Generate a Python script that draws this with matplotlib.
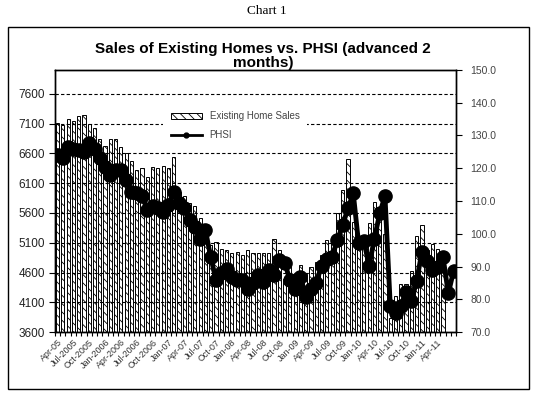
import matplotlib
matplotlib.use('Agg')
from matplotlib import pyplot as plt
from matplotlib.patches import Rectangle
from matplotlib.lines import Line2D
import numpy as np

# monthly categories Apr-05 .. Jul-11 (bars stop at May-11, PHSI is advanced 2 months)
tick_labels = ['Apr-05', 'Jul-2005', 'Oct-2005', 'Jan-2006', 'Apr-2006', 'Jul-2006', 'Oct-2006',
               'Jan-07', 'Apr-07', 'Jul-07', 'Oct-07', 'Jan-08', 'Apr-08', 'Jul-08', 'Oct-08',
               'Jan-09', 'Apr-09', 'Jul-09', 'Oct-09', 'Jan-10', 'Apr-10', 'Jul-10', 'Oct-10',
               'Jan-11', 'Apr-11']

existing_sales = [7110, 7080, 7180, 7140, 7230, 7250, 7100, 7030, 6840, 6720,
                  6840, 6840, 6700, 6600, 6480, 6320, 6350, 6200, 6370, 6350,
                  6390, 6360, 6540, 5950, 5890, 5770, 5720, 5510, 5140, 5070,
                  5110, 5000, 4970, 4920, 4950, 4900, 4970, 4920, 4930, 4920,
                  4930, 5170, 4980, 4490, 4740, 4490, 4720, 4570, 4690, 4770,
                  4890, 5140, 5100, 5600, 5980, 6500, 5440, 5050, 5020, 5430,
                  5790, 5660, 5240, 3840, 4200, 4410, 4400, 4630, 5220, 5400,
                  4980, 5080, 5000, 4820]

phsi = [124.0, 123.2, 126.4, 126.0, 125.5, 125.1, 127.7, 126.0, 123.2, 120.5,
        117.9, 119.5, 119.4, 116.4, 112.8, 112.5, 111.5, 107.3, 108.6, 107.8,
        106.7, 108.8, 112.8, 109.3, 107.8, 104.2, 102.2, 98.3, 101.1, 93.0,
        85.9, 87.9, 89.4, 86.9, 85.9, 85.9, 83.3, 84.9, 87.4, 85.4,
        88.9, 87.4, 92.0, 91.2, 85.9, 83.0, 86.9, 80.6, 83.0, 85.0,
        90.3, 92.3, 93.0, 98.1, 102.7, 107.8, 112.3, 97.2, 97.9, 90.2,
        98.5, 106.2, 111.5, 78.1, 75.8, 78.0, 82.3, 79.4, 85.6, 94.5,
        91.6, 88.8, 89.8, 92.8, 81.8, 88.7]

plt.rcParams['font.family'] = ['Liberation Sans', 'DejaVu Sans']
plt.rcParams['hatch.linewidth'] = 0.6

fig = plt.figure(figsize=(5.33, 3.93), dpi=100)
ax = fig.add_axes([0.103, 0.155, 0.753, 0.667])
ax2 = ax.twinx()

fig.text(0.5, 0.972, 'Chart 1', ha='center', va='center', fontsize=9.5,
         family='Liberation Serif')
fig.patches.append(Rectangle((0.015, 0.010), 0.978, 0.921, transform=fig.transFigure,
                             fill=False, edgecolor='black', linewidth=1.0))
fig.text(0.493, 0.858, 'Sales of Existing Homes vs. PHSI (advanced 2\nmonths)',
         ha='center', va='center', fontsize=11, fontweight='bold', linespacing=1.05)

x_bar = np.arange(len(existing_sales))
x_line = np.arange(len(phsi))

ax.bar(x_bar, existing_sales, width=0.6, color='white', edgecolor='black',
       linewidth=0.7, hatch='\\\\\\\\', label='Existing Home Sales')
ax.set_ylim(3600, 8000)
ax.set_yticks(np.arange(3600, 7601, 500))
ax.yaxis.grid(True, linestyle=(0, (3, 2)), color='black', linewidth=0.8)
ax.set_axisbelow(False)
ax.set_xlim(-0.5, len(phsi) - 0.5)

ax.set_xticks(np.arange(0, 73, 3))
ax.set_xticklabels(tick_labels, rotation=45, ha='right', rotation_mode='anchor', fontsize=6.5,
                   color='#333333')
ax.set_xticks(np.arange(-0.5, len(phsi)), minor=True)
ax.tick_params(axis='x', which='major', length=0, pad=4)
ax.tick_params(axis='x', which='minor', length=3, direction='out', width=0.8)
ax.tick_params(axis='y', labelsize=8.5, length=4, width=0.8, labelcolor='#222222', pad=3)

ax2.plot(x_line, phsi, color='black', linewidth=3.5, marker='o', markersize=9.5,
         solid_joinstyle='round', label='PHSI')
ax2.set_ylim(70, 150)
ax2.set_yticks(np.arange(70, 151, 10))
ax2.set_yticklabels([f"{v:.1f}" for v in np.arange(70, 151, 10)])
ax2.tick_params(axis='y', labelsize=7.5, length=4, width=0.8, labelcolor='#444444', pad=6)

for a in (ax, ax2):
    for s in a.spines.values():
        s.set_linewidth(1.0)
        s.set_color('black')

handles = [plt.Rectangle((0, 0), 1, 1, facecolor='white', edgecolor='black',
                         hatch='\\\\\\\\', linewidth=0.7),
           Line2D([0], [0], color='black', linewidth=2, marker='o', markersize=3.5)]
leg = ax2.legend(handles, ['Existing Home Sales', 'PHSI'], loc='upper left',
                 bbox_to_anchor=(0.257, 0.89), frameon=True, fancybox=False,
                 edgecolor='none', facecolor='white', framealpha=1.0, fontsize=7,
                 handlelength=3.2, handleheight=0.7, labelspacing=0.9, borderpad=0.8)
for t in leg.get_texts():
    t.set_color('#444444')

fig.savefig('out.png', dpi=100)
